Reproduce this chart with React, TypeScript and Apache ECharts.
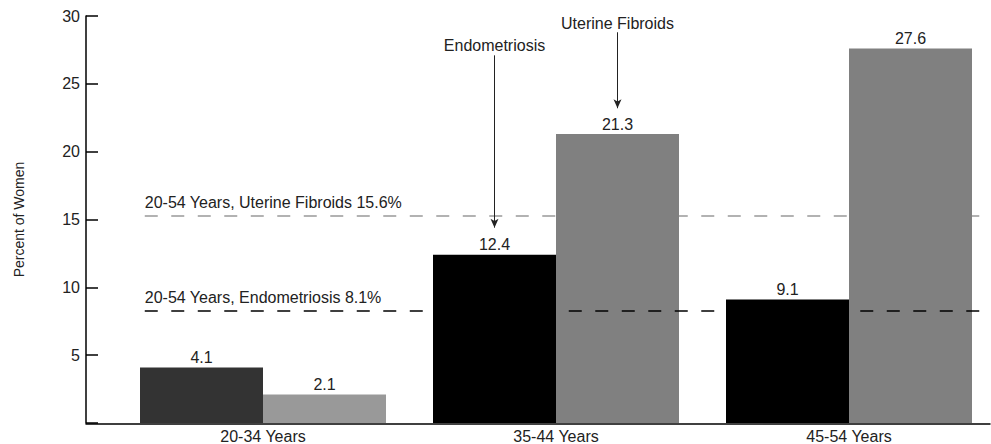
import React, { useEffect, useRef } from "react";
import * as echarts from "echarts";

const categories = ["20-34 Years", "35-44 Years", "45-54 Years"];
const endometriosis = [4.1, 12.4, 9.1];
const fibroids = [2.1, 21.3, 27.6];
const endoColors = ["#333333", "#000000", "#000000"];
const fibroColors = ["#999999", "#808080", "#808080"];
const yTicks = { min: 0, max: 30, interval: 5 };
const refFibroids = { value: 15.3, label: "20-54 Years, Uterine Fibroids 15.6%" };
const refEndo = { value: 8.35, label: "20-54 Years, Endometriosis 8.1%" };
const refSpan = [0.065, 0.993];
const endoArrow = { category: "35-44 Years", from: 27.1, to: 14.4, label: "Endometriosis" };
const fibroArrow = { category: "35-44 Years", from: 28.8, to: 23.2, label: "Uterine Fibroids" };

const FONT = "Liberation Sans, Arial, sans-serif";
const TXT = "#222222";
const FS = 16;

export default function App() {
  const ref = useRef<HTMLDivElement>(null);
  useEffect(() => {
    if (!ref.current) return;
    const chart = echarts.init(ref.current, undefined, { renderer: "svg" });
    const arrowLine = (a: typeof endoArrow, dist: number) => ({
      silent: true,
      symbol: ["none", "arrow"],
      symbolSize: [6, 9],
      lineStyle: { color: TXT, width: 1, type: "solid" },
      label: {
        show: true,
        position: "start",
        distance: dist,
        formatter: a.label,
        color: TXT,
        fontSize: FS,
        fontFamily: FONT,
      },
      data: [[{ coord: [a.category, a.from] }, { coord: [a.category, a.to] }]],
    });
    const refLine = (r: typeof refEndo, color: string, z: number) => ({
      silent: true,
      z,
      symbol: ["none", "none"],
      lineStyle: { color, width: 1.5, type: [13, 13.5] },
      label: {
        show: true,
        position: "insideStartTop",
        distance: [0, 5],
        formatter: r.label,
        color: TXT,
        fontSize: FS,
        fontFamily: FONT,
      },
      data: [[{ coord: [refSpan[0], r.value] }, { coord: [refSpan[1], r.value] }]],
    });
    chart.setOption({
      animation: false,
      textStyle: { fontFamily: FONT },
      grid: [
        { left: 263, width: 586, top: 16, bottom: 20 },
        { left: 86, right: 1, top: 16, bottom: 20 },
      ],
      xAxis: [
        {
          type: "category",
          gridIndex: 0,
          data: categories,
          boundaryGap: false,
          axisLine: { show: false },
          axisTick: { show: false },
          axisLabel: { color: TXT, fontSize: FS, margin: 5, fontFamily: FONT },
        },
        {
          type: "value",
          gridIndex: 1,
          min: 0,
          max: 1,
          axisLine: { show: true, lineStyle: { color: "#000", width: 1.5 } },
          axisTick: { show: false },
          axisLabel: { show: false },
          splitLine: { show: false },
        },
      ],
      yAxis: [
        {
          type: "value",
          gridIndex: 0,
          min: yTicks.min,
          max: yTicks.max,
          interval: yTicks.interval,
          offset: 177,
          name: "Percent of Women",
          nameLocation: "middle",
          nameGap: 60,
          nameTextStyle: { color: TXT, fontSize: 14, fontFamily: FONT },
          axisLine: { show: true, lineStyle: { color: "#000", width: 1.5 } },
          axisTick: { show: true, inside: true, length: 12, lineStyle: { color: "#000", width: 1.5 } },
          axisLabel: {
            color: TXT,
            fontSize: FS,
            margin: 6,
            fontFamily: FONT,
            formatter: (v: number) => (v === 0 ? "" : String(v)),
          },
          splitLine: { show: false },
        },
        {
          type: "value",
          gridIndex: 1,
          min: yTicks.min,
          max: yTicks.max,
          show: false,
        },
      ],
      series: [
        {
          type: "line",
          xAxisIndex: 1,
          yAxisIndex: 1,
          data: [],
          z: 1,
          markLine: refLine(refFibroids, "#999999", 1),
        },
        {
          name: "Endometriosis",
          type: "bar",
          xAxisIndex: 0,
          yAxisIndex: 0,
          barWidth: 123,
          barGap: "0%",
          clip: false,
          z: 2,
          data: endometriosis.map((v, i) => ({ value: v, itemStyle: { color: endoColors[i] } })),
          label: { show: true, position: "top", distance: 2, color: TXT, fontSize: FS, fontFamily: FONT },
          markLine: arrowLine(endoArrow, 2),
        },
        {
          name: "Uterine Fibroids",
          type: "bar",
          xAxisIndex: 0,
          yAxisIndex: 0,
          barWidth: 123,
          barGap: "0%",
          clip: false,
          z: 2,
          data: fibroids.map((v, i) => ({ value: v, itemStyle: { color: fibroColors[i] } })),
          label: { show: true, position: "top", distance: 2, color: TXT, fontSize: FS, fontFamily: FONT },
          markLine: arrowLine(fibroArrow, 1),
        },
        {
          type: "line",
          xAxisIndex: 1,
          yAxisIndex: 1,
          data: [],
          z: 10,
          markLine: refLine(refEndo, "#000000", 10),
        },
      ],
    });
    return () => chart.dispose();
  }, []);
  return (
    <div
      ref={ref}
      style={{ position: "absolute", left: 0, top: 0, width: 991, height: 444, background: "#fff" }}
    />
  );
}
